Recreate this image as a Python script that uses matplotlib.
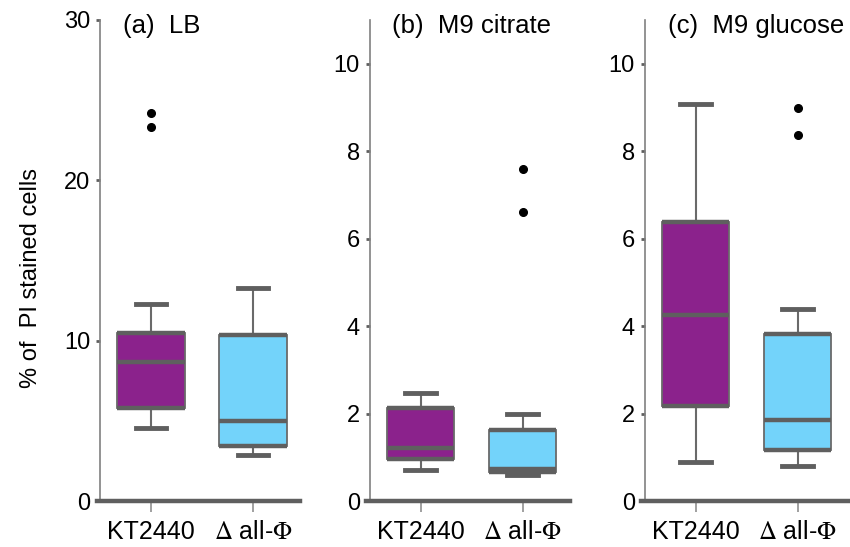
import matplotlib
matplotlib.use("Agg")
import matplotlib.pyplot as plt

plt.rcParams['font.family'] = ['Liberation Sans', 'DejaVu Sans']
plt.rcParams['mathtext.fontset'] = 'stix'

strains = ["KT2440", r"$\Delta$ all-$\Phi$"]
panels = ["(a)  LB", "(b)  M9 citrate", "(c)  M9 glucose"]
colors = ["#8b228c", "#73d3fa"]

# five-number summaries per medium: whislo, q1, median, q3, whishi
lb_kt = [4.57, 5.83, 8.65, 10.48, 12.26]
lb_del = [2.89, 3.41, 4.96, 10.37, 13.26]
cit_kt = [0.72, 0.97, 1.21, 2.13, 2.48]
cit_del = [0.6, 0.66, 0.74, 1.62, 2.0]
glc_kt = [0.9, 2.17, 4.25, 6.39, 9.08]
glc_del = [0.8, 1.17, 1.85, 3.83, 4.39]

lb_out = [[24.2, 23.35], []]
cit_out = [[], [7.59, 6.6]]
glc_out = [[], [8.99, 8.38]]

data = [(lb_kt, lb_del, lb_out), (cit_kt, cit_del, cit_out), (glc_kt, glc_del, glc_out)]
ylims = [(0, 30), (0, 11), (0, 11)]
yticks = [[0, 10, 20, 30], [0, 2, 4, 6, 8, 10], [0, 2, 4, 6, 8, 10]]

W, H = 850, 547
fig = plt.figure(figsize=(W / 100, H / 100), dpi=100)

# pixel layout: left edge, right edge of each panel
edges = [(96.5, 300), (366, 570), (641, 850)]
px_per_unit = 102
top_px, bot_px = 20, 501

gray = "#5f5f5f"

for i, (kt, dl, outs) in enumerate(data):
    l, r = edges[i]
    ax = fig.add_axes([l / W, (H - bot_px) / H, (r - l) / W, (bot_px - top_px) / H])
    x0 = 0.5 - 3.5 / px_per_unit
    x1 = 0.5 + (r - l - 3.5) / px_per_unit
    ax.set_xlim(x0, x1)
    ax.set_ylim(*ylims[i])

    stats = []
    for s, fl, name in zip([kt, dl], outs, strains):
        stats.append(dict(whislo=s[0], q1=s[1], med=s[2], q3=s[3], whishi=s[4],
                          fliers=fl, label=name))
    bp = ax.bxp(stats, positions=[1, 2], widths=0.66, patch_artist=True,
                boxprops=dict(edgecolor="#6a6a6a", linewidth=1.3),
                medianprops=dict(color=gray, linewidth=3.2, solid_capstyle="butt"),
                whiskerprops=dict(color="#6a6a6a", linewidth=1.5),
                capprops=dict(color=gray, linewidth=3.5),
                capwidths=0.3,
                flierprops=dict(marker="o", markerfacecolor="black",
                                markeredgecolor="black", markersize=5.5))
    for patch, c in zip(bp["boxes"], colors):
        patch.set_facecolor(c)
    # heavy quartile edges
    for pos, s in zip([1, 2], [kt, dl]):
        ax.hlines([s[1], s[3]], pos - 0.33, pos + 0.33, colors=gray, linewidth=3.2, zorder=3)

    for side in ["top", "right"]:
        ax.spines[side].set_visible(False)
    ax.spines["left"].set_position(("data", 0.5))
    ax.spines["left"].set_color("#808080")
    ax.spines["left"].set_linewidth(1.2)
    ax.spines["bottom"].set_color(gray)
    ax.spines["bottom"].set_linewidth(3.2)

    ax.set_yticks(yticks[i])
    ax.tick_params(axis="y", length=3, width=2, color=gray, pad=4,
                   labelsize=17, labelcolor="black")
    ax.set_xticks([1, 2])
    ax.set_xticklabels(strains)
    ax.tick_params(axis="x", length=8, width=1.2, color="#909090", pad=6,
                   labelsize=18, labelcolor="black")

    ax.text(26.5 / (r - l), 1.012, panels[i], transform=ax.transAxes,
            fontsize=18.5, ha="left", va="top")

    if i == 0:
        ax.set_ylabel("% of  PI stained cells", fontsize=17)
        ax.yaxis.set_label_coords(-0.27, 0.464)

fig.savefig("out.png", dpi=100)
